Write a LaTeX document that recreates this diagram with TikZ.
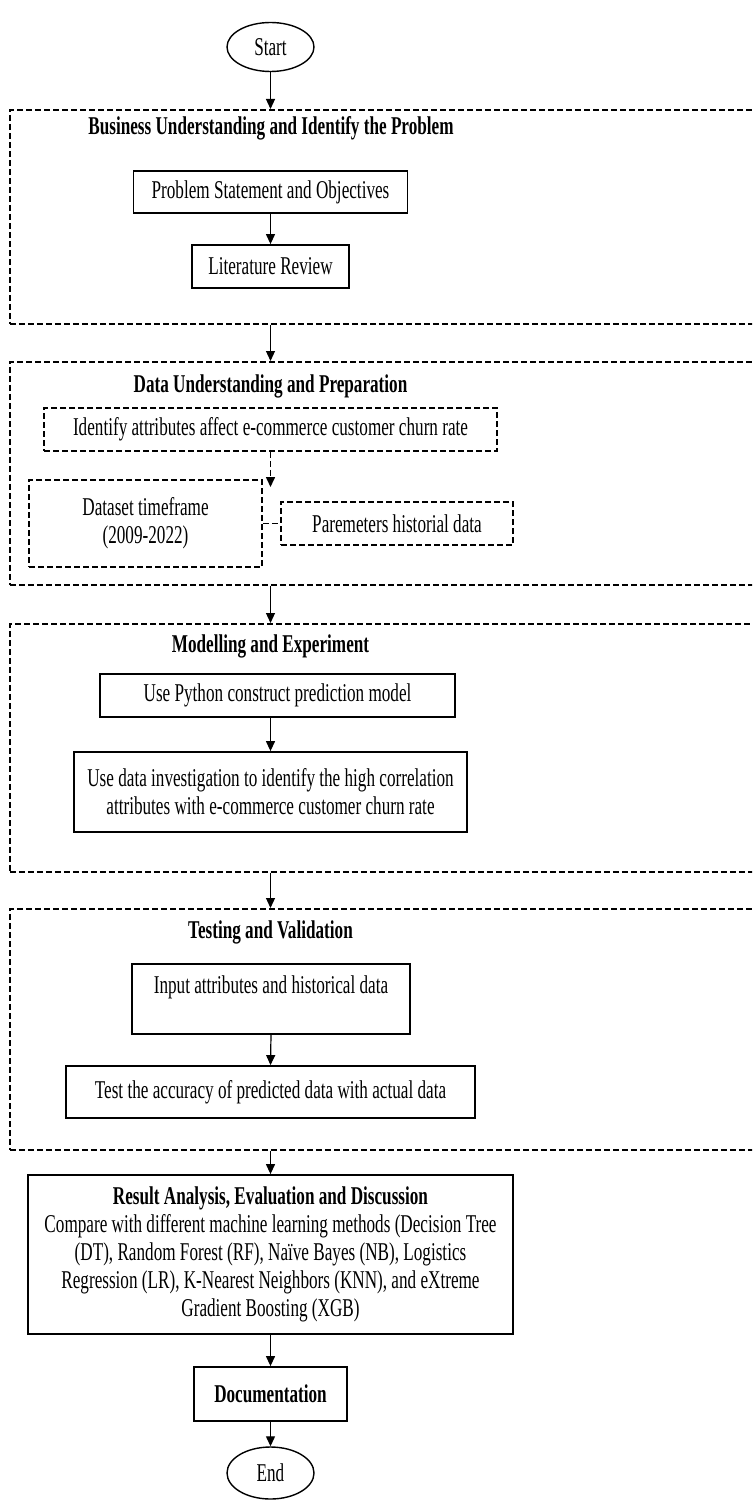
\documentclass[tikz,border=0pt]{standalone}
\usepackage{fontspec}
\setmainfont{Liberation Serif}[FakeStretch=0.67]
\usetikzlibrary{shapes.geometric,arrows.meta}
\begin{document}
\begin{tikzpicture}[x=0.5pt,y=-0.5pt,
 every node/.style={font=\fontsize{12.8}{14}\selectfont, inner sep=0pt, align=center},
 solidbox/.style={draw, line width=0.9pt, rectangle},
 dashbox/.style={draw, line width=0.8pt, dash pattern=on 3pt off 1.5pt, rectangle},
 container/.style={dashbox, anchor=north west, minimum width=420pt},
 oval/.style={draw, line width=0.7pt, ellipse, minimum width=43.5pt, minimum height=24.5pt},
 arr/.style={-{Triangle[length=5pt,width=4.5pt]}, line width=0.6pt},
 darr/.style={arr, dash pattern=on 3pt off 1.5pt, line width=0.8pt},
 title/.style={font=\fontsize{12.8}{14}\selectfont\bfseries}]
\useasboundingbox (0,0) rectangle (752,1503);
\clip (0,0) rectangle (752,1503);

% start
\node[oval] (start) at (270.5,47) {Start};

% section 1
\node[container, minimum height=107pt] (c1) at (9,109) {};
\node[title] (t1) at (271,128) {Business Understanding and Identify the Problem};
\node[solidbox, minimum width=137pt, minimum height=21pt] (p1) at (270.5,192) {Problem Statement and Objectives};
\node[solidbox, minimum width=78.5pt, minimum height=21.5pt] (p2) at (270.5,266.5) {Literature Review};

% section 2
\node[container, minimum height=111.5pt] (c2) at (9,361) {};
\node[title] (t2) at (270.5,386) {Data Understanding and Preparation};
\node[dashbox, minimum width=226.5pt, minimum height=21.5pt] (d1) at (270.5,429.5) {Identify attributes affect e-commerce customer churn rate};
\coordinate (d1end) at (270.5,487);
\node[dashbox, minimum width=116.5pt, minimum height=43.5pt] (d2) at (145.5,523.5) {Dataset timeframe\\(2009-2022)};
\node[dashbox, minimum width=116pt, minimum height=21.5pt] (d3) at (397,523.5) {Paremeters historial data};

% section 3
\node[container, minimum height=124pt] (c3) at (9,623) {};
\node[title] (t3) at (270.5,646) {Modelling and Experiment};
\node[solidbox, minimum width=177.5pt, minimum height=21.5pt] (m1) at (277.5,695.5) {Use Python construct prediction model};
\node[solidbox, minimum width=196.5pt, minimum height=40pt] (m2) at (270.5,792) {Use data investigation to identify the high correlation\\attributes with e-commerce customer churn rate};

% section 4
\node[container, minimum height=120.5pt] (c4) at (9,908) {};
\node[title] (t4) at (270.5,932) {Testing and Validation};
\node[solidbox, minimum width=139pt, minimum height=35pt] (v1) at (271,999) {Input attributes and historical data\\\mbox{}};
\node[solidbox, minimum width=204.5pt, minimum height=26pt] (v2) at (270.5,1092) {Test the accuracy of predicted data with actual data};

% result
\node[solidbox, minimum width=242.5pt, minimum height=79.5pt] (r) at (270.5,1254.5) {\textbf{Result Analysis, Evaluation and Discussion}\\Compare with different machine learning methods (Decision Tree\\(DT), Random Forest (RF), Naïve Bayes (NB), Logistics\\Regression (LR), K-Nearest Neighbors (KNN), and eXtreme\\Gradient Boosting (XGB)};
\node[solidbox, minimum width=76.5pt, minimum height=27pt, title] (doc) at (270.5,1394) {Documentation};
\node[oval, minimum height=26pt] (end) at (270.5,1473) {End};

% connectors
\draw[arr] (start.south) -- (start.south |- c1.north);
\draw[arr] (p1.south) -- (p2.north);
\draw[arr] (c1.south -| start) -- (c2.north -| start);
\draw[darr] (d1.south) -- (d1end);
\draw[dash pattern=on 3pt off 1.5pt, line width=0.8pt] (d2.east) -- (d3.west);
\draw[arr] (c2.south -| start) -- (c3.north -| start);
\draw[arr] (m2.north |- m1.south) -- (m2.north);
\draw[arr] (c3.south -| start) -- (c4.north -| start);
\draw[arr] (v1.south) -- (v2.north);
\draw[arr] (c4.south -| start) -- (r.north);
\draw[arr] (r.south) -- (doc.north);
\draw[arr] (doc.south) -- (end.north);
\end{tikzpicture}
\end{document}
